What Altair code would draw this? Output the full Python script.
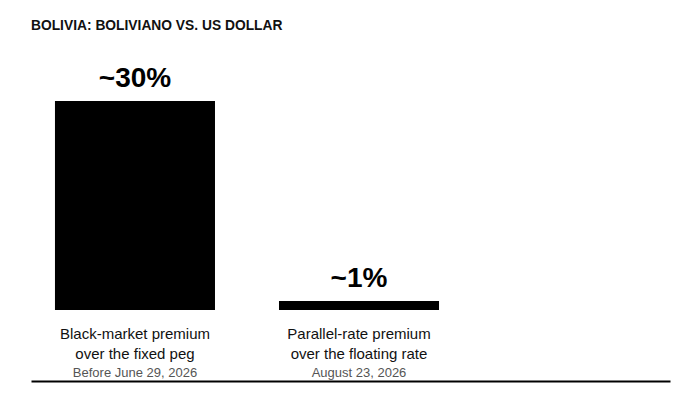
import pandas as pd
import altair as alt

title_text = "BOLIVIA: BOLIVIANO VS. US DOLLAR"
categories = ["Black-market premium\nover the fixed peg", "Parallel-rate premium\nover the floating rate"]
premiums = [30, 1.3]
premium_labels = ["~30%", "~1%"]
dates = ["Before June 29, 2026", "August 23, 2026"]

df = pd.DataFrame({
    "category": categories,
    "premium": premiums,
    "label": premium_labels,
    "date": dates,
})

FONT = "Liberation Sans"
y_min, y_max = -10.19, 38.04

x = alt.X("category:N", sort=categories, title=None,
          scale=alt.Scale(paddingInner=0.2857, paddingOuter=0.569, align=0.094),
          axis=alt.Axis(labels=False, ticks=False, domainColor="#000", domainWidth=2,
                        grid=False, title=None))
y_scale = alt.Scale(domain=[y_min, y_max], nice=False, zero=False)

base = alt.Chart(df)

bars = base.mark_bar(color="#000").encode(
    x=x,
    y=alt.Y("premium:Q", scale=y_scale, axis=None),
    y2=alt.datum(0),
)

pct = base.mark_text(font=FONT, fontSize=28, fontWeight="bold", color="#000",
                     baseline="alphabetic", dy=-14).encode(
    x=x, y=alt.Y("premium:Q"), text="label:N")

desc = base.mark_text(font=FONT, fontSize=15, color="#111", baseline="alphabetic",
                      lineBreak="\n", lineHeight=20, dy=29).encode(
    x=x, y=alt.datum(0), text="category:N")

date = base.mark_text(font=FONT, fontSize=13, color="#555", baseline="alphabetic",
                      dy=67).encode(
    x=x, y=alt.datum(0), text="date:N")

chart = (bars + pct + desc + date).properties(
    width=639, height=336,
    title=alt.Title(title_text, anchor="start", font=FONT, fontSize=13.8, fontWeight="bold",
                    color="#111", baseline="alphabetic", offset=1),
    autosize=alt.AutoSizeParams(type="none"),
    padding={"left": 23, "top": 37, "right": 3, "bottom": 10},
).configure_view(stroke=None)

chart.save("out.html", embed_options={"renderer": "svg", "actions": False})
